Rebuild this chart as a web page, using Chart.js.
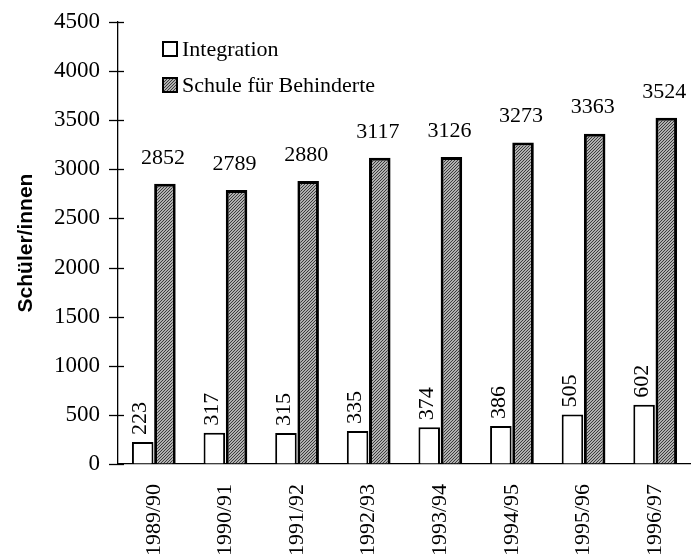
<!DOCTYPE html>
<html>
<head>
<meta charset="utf-8">
<script src="https://cdn.jsdelivr.net/npm/chart.js@4/dist/chart.umd.min.js"></script>
<style>
  html, body { margin: 0; padding: 0; background: #fff; }
  #wrap { width: 691px; height: 560px; }
</style>
</head>
<body>
<div id="wrap"><canvas id="c" width="691" height="560"></canvas></div>
<script>
const categories = ["1989/90", "1990/91", "1991/92", "1992/93", "1993/94", "1994/95", "1995/96", "1996/97"];
const integration = [223, 317, 315, 335, 374, 386, 505, 602];
const schule = [2852, 2789, 2880, 3117, 3126, 3273, 3363, 3524];
const seriesNames = ["Integration", "Schule für Behinderte"];
const yTitle = "Schüler/innen";
const yMax = 4500;
const yStep = 500;

const SERIF = "'Liberation Serif', 'Times New Roman', serif";

function makePattern() {
  const p = document.createElement('canvas');
  p.width = 3; p.height = 3;
  const g = p.getContext('2d');
  g.fillStyle = '#b0b0b0';
  g.fillRect(0, 0, 3, 3);
  g.fillStyle = '#3c3c3c';
  for (let i = 0; i < 3; i++) g.fillRect(i, 2 - i, 1, 1);
  return document.getElementById('c').getContext('2d').createPattern(p, 'repeat');
}
const hatch = makePattern();

const overlay = {
  id: 'overlay',
  afterDraw(chart) {
    const ctx = chart.ctx;
    const y = chart.scales.y;
    const area = chart.chartArea;
    ctx.save();
    // y-axis crossing ticks
    ctx.strokeStyle = '#000';
    ctx.lineWidth = 1.3;
    y.ticks.forEach(t => {
      const py = Math.round(y.getPixelForValue(t.value)) + 0.5;
      ctx.beginPath();
      ctx.moveTo(area.left - 9, py);
      ctx.lineTo(area.left + 6, py);
      ctx.stroke();
    });
    // data labels
    ctx.fillStyle = '#000';
    ctx.font = '22px ' + SERIF;
    const m0 = chart.getDatasetMeta(0);
    m0.data.forEach((el, i) => {
      ctx.save();
      ctx.translate(el.x - 2, el.y - 7);
      ctx.rotate(-Math.PI / 2);
      ctx.textAlign = 'left';
      ctx.textBaseline = 'middle';
      ctx.fillText(String(integration[i]), 0, 0);
      ctx.restore();
    });
    const m1 = chart.getDatasetMeta(1);
    m1.data.forEach((el, i) => {
      ctx.textAlign = 'center';
      ctx.textBaseline = 'middle';
      ctx.fillText(String(schule[i]), el.x - 2, el.y - 26);
    });
    // legend
    ctx.font = '22px ' + SERIF;
    ctx.textAlign = 'left';
    ctx.textBaseline = 'middle';
    const items = [{ fill: '#fff', y: 49 }, { fill: hatch, y: 85 }];
    items.forEach((it, i) => {
      ctx.fillStyle = it.fill;
      ctx.fillRect(163, it.y - 7, 14, 14);
      ctx.strokeStyle = '#000';
      ctx.lineWidth = 2;
      ctx.strokeRect(163, it.y - 7, 14, 14);
      ctx.fillStyle = '#000';
      ctx.fillText(seriesNames[i], 182, it.y + 1);
    });
    ctx.restore();
  }
};

new Chart(document.getElementById('c'), {
  type: 'bar',
  data: {
    labels: categories,
    datasets: [
      {
        label: seriesNames[0],
        data: integration,
        backgroundColor: '#ffffff',
        borderColor: '#000000',
        borderWidth: 2,
        categoryPercentage: 0.62,
        barPercentage: 0.97
      },
      {
        label: seriesNames[1],
        data: schule,
        backgroundColor: hatch,
        borderColor: '#000000',
        borderWidth: 3,
        categoryPercentage: 0.62,
        barPercentage: 0.97
      }
    ]
  },
  options: {
    responsive: false,
    animation: false,
    devicePixelRatio: 1,
    layout: { padding: { top: 22, right: 0, left: 0, bottom: 0 } },
    plugins: {
      legend: { display: false },
      tooltip: { enabled: false }
    },
    scales: {
      x: {
        grid: { display: true, drawOnChartArea: false, drawTicks: true, tickLength: 18, tickColor: 'rgba(0,0,0,0)' },
        border: { display: true, color: '#000', width: 1.3 },
        ticks: {
          color: '#000',
          font: { family: SERIF, size: 22 },
          minRotation: 90,
          maxRotation: 90,
          padding: 2,
          autoSkip: false
        },
        afterFit(scale) { scale.height = 96; }
      },
      y: {
        min: 0,
        max: yMax,
        grid: { display: true, drawOnChartArea: false, drawTicks: true, tickLength: 15, tickColor: 'rgba(0,0,0,0)' },
        border: { display: true, color: '#000', width: 1.3 },
        ticks: {
          stepSize: yStep,
          color: '#000',
          font: { family: SERIF, size: 23 },
          padding: 3,
          callback: (v) => String(v)
        },
        title: {
          display: true,
          text: yTitle,
          color: '#000',
          font: { family: "'Liberation Sans', Arial, sans-serif", size: 21, weight: 'bold' },
          padding: { top: 14, bottom: 0 }
        },
        afterFit(scale) { scale.width = 118; }
      }
    }
  },
  plugins: [overlay]
});
</script>
</body>
</html>
